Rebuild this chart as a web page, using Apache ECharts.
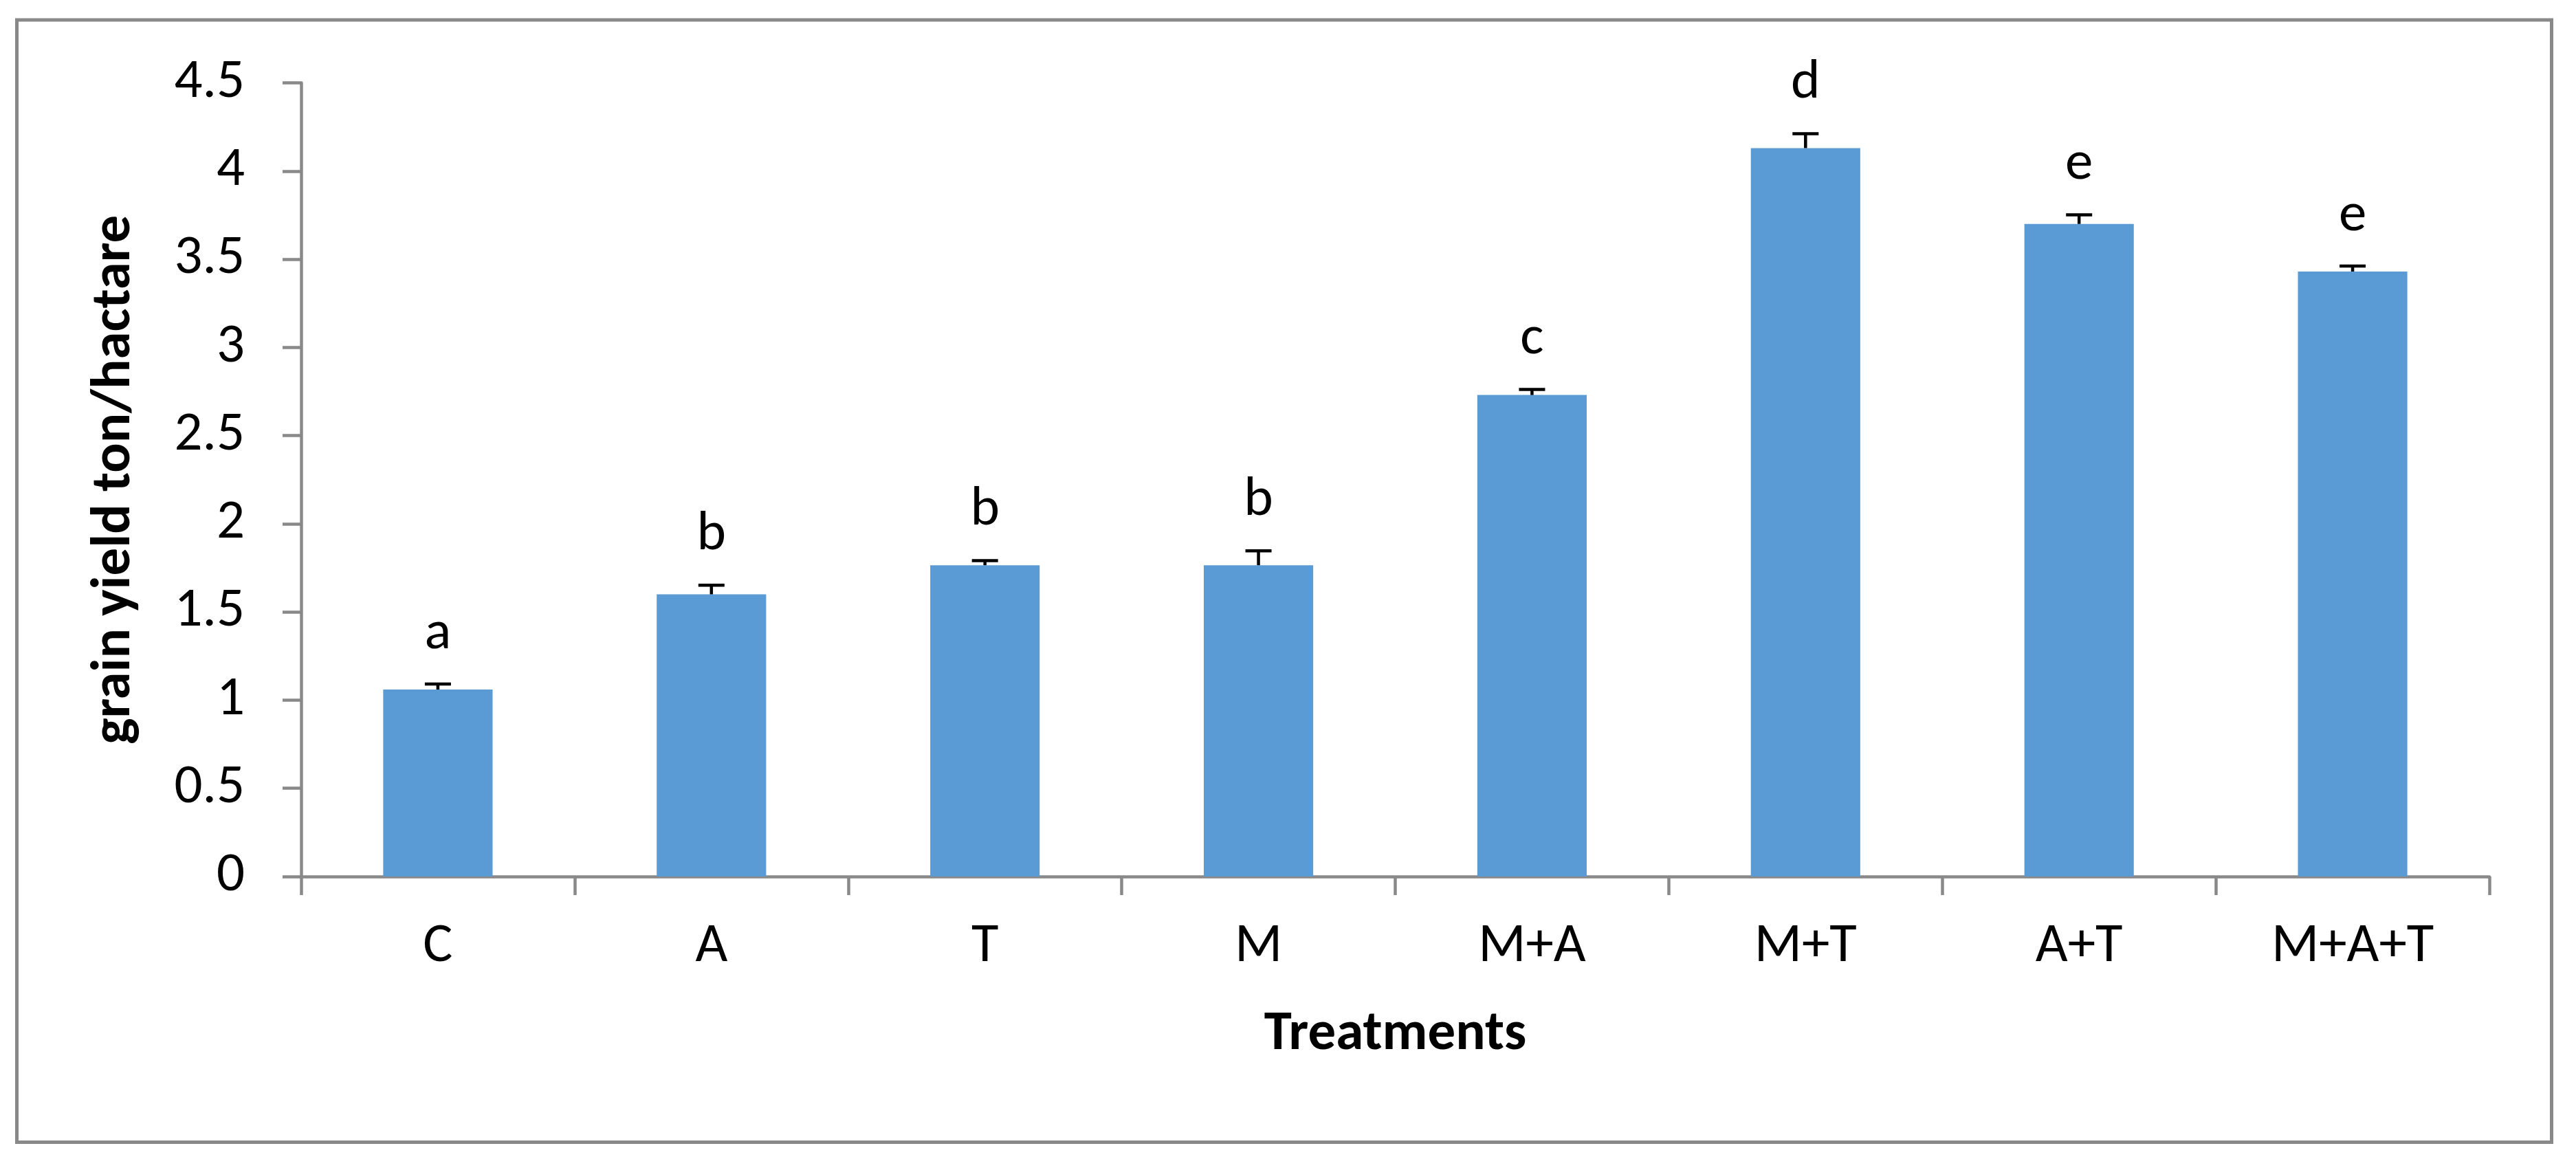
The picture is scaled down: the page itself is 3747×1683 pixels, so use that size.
<!DOCTYPE html>
<html>
<head>
<meta charset="utf-8">
<script src="https://cdn.jsdelivr.net/npm/echarts@6/dist/echarts.min.js"></script>
<style>
html,body{margin:0;padding:0;background:#fff;}
#chart{width:3747px;height:1683px;}
</style>
</head>
<body>
<div id="chart"></div>
<script>
// ---- data ----
var categories = ['C', 'A', 'T', 'M', 'M+A', 'M+T', 'A+T', 'M+A+T'];
var grainYield = [1.06, 1.60, 1.765, 1.765, 2.73, 4.13, 3.70, 3.43];
var errorUp = [0.04, 0.06, 0.035, 0.09, 0.04, 0.09, 0.06, 0.04];
var letters = ['a', 'b', 'b', 'b', 'c', 'd', 'e', 'e'];
var yTicks = { min: 0, max: 4.5, interval: 0.5 };
var xTitle = 'Treatments';
var yTitle = 'grain yield ton/hactare';

var FONT = "Carlito, 'Noto Sans', sans-serif";
var GREY = '#898989';

var chart = echarts.init(document.getElementById('chart'), null, { renderer: 'canvas' });

var errData = grainYield.map(function (v, i) { return [i, v, v + errorUp[i], letters[i]]; });

var option = {
  animation: false,
  backgroundColor: '#ffffff',
  graphic: [{
    type: 'rect',
    shape: { x: 24.5, y: 29, width: 3687, height: 1632.5 },
    style: { fill: 'none', stroke: GREY, lineWidth: 5 },
    silent: true
  }],
  grid: { left: 438, right: 126, top: 120.5, bottom: 408, containLabel: false },
  xAxis: {
    type: 'category',
    data: categories,
    boundaryGap: true,
    name: xTitle,
    nameLocation: 'middle',
    nameGap: 190,
    nameTextStyle: { fontFamily: FONT, fontWeight: 'bold', fontSize: 81, color: '#000' },
    axisLine: { show: true, lineStyle: { color: GREY, width: 4.5 } },
    axisTick: { show: true, length: 27, interval: 0, lineStyle: { color: GREY, width: 4.5 } },
    axisLabel: { fontFamily: FONT, fontSize: 81, color: '#000', margin: 62, interval: 0 },
    splitLine: { show: false }
  },
  yAxis: {
    type: 'value',
    min: yTicks.min,
    max: yTicks.max,
    interval: yTicks.interval,
    name: yTitle,
    nameLocation: 'middle',
    nameGap: 230,
    nameTextStyle: { fontFamily: FONT, fontWeight: 'bold', fontSize: 81, color: '#000' },
    axisLine: { show: true, lineStyle: { color: GREY, width: 4.5 } },
    axisTick: { show: true, length: 27, lineStyle: { color: GREY, width: 4.5 } },
    axisLabel: { fontFamily: FONT, fontSize: 81, color: '#000', margin: 82 },
    splitLine: { show: false }
  },
  series: [{
    type: 'bar',
    data: grainYield,
    barWidth: '40%',
    itemStyle: { color: '#5B9BD5' },
    silent: true
  }, {
    type: 'custom',
    data: errData,
    silent: true,
    z: 10,
    renderItem: function (params, api) {
      var base = api.coord([api.value(0), api.value(1)]);
      var top = api.coord([api.value(0), api.value(2)]);
      var cap = 19;
      var lw = 4.5;
      return {
        type: 'group',
        children: [{
          type: 'line',
          shape: { x1: base[0], y1: base[1], x2: top[0], y2: top[1] + lw / 2 },
          style: { stroke: '#000', lineWidth: lw }
        }, {
          type: 'line',
          shape: { x1: top[0] - cap, y1: top[1] + lw / 2, x2: top[0] + cap, y2: top[1] + lw / 2 },
          style: { stroke: '#000', lineWidth: lw }
        }, {
          type: 'text',
          style: {
            text: api.value(3),
            x: top[0],
            y: top[1] - 30,
            align: 'center',
            verticalAlign: 'bottom',
            font: '81px ' + FONT,
            fill: '#000'
          }
        }]
      };
    }
  }]
};
chart.setOption(option);
</script>
</body>
</html>
